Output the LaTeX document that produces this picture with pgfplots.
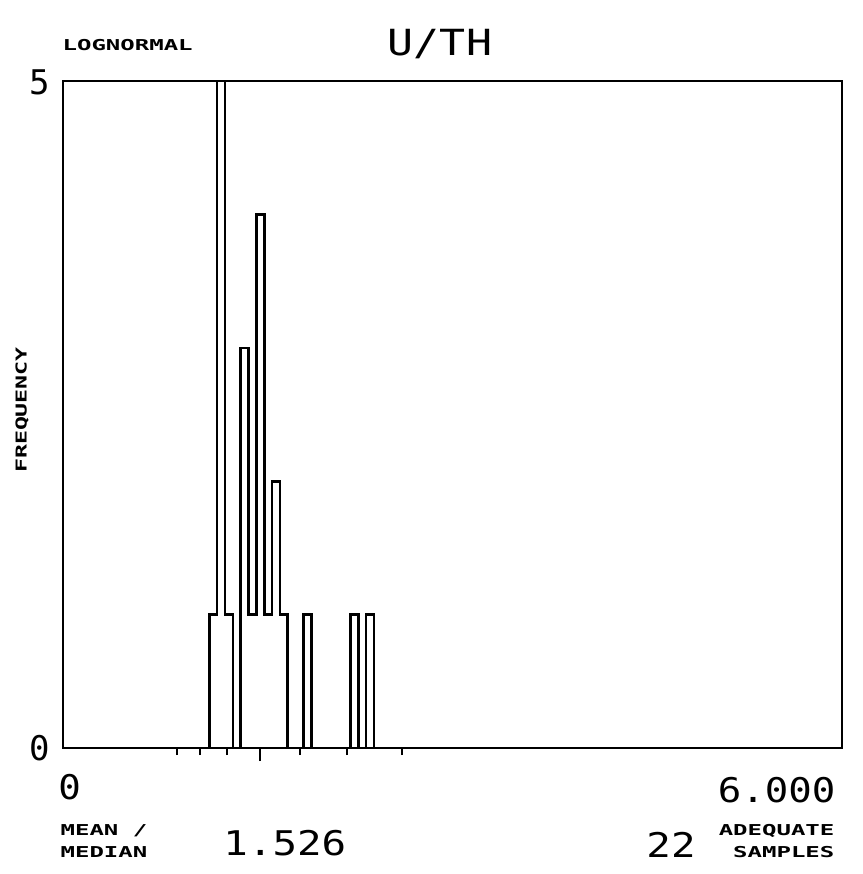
\documentclass[border=0pt]{standalone}
\usepackage{fontspec}
\setmainfont{DejaVu Sans Mono}
\usepackage{pgfplots}
\pgfplotsset{compat=1.18}
\newcommand{\smallfnt}{\fontsize{7.5}{8}\selectfont\bfseries}
\newcommand{\bigfnt}{\fontsize{17}{18}\selectfont}
\begin{document}
\begin{tikzpicture}[x=0.5pt,y=0.5pt]
\useasboundingbox (0,0) rectangle (863,874);
\begin{axis}[
  at={(31.5pt,63pt)}, anchor=south west,
  scale only axis, width=389.5pt, height=333.5pt,
  xmin=0, xmax=6, ymin=0, ymax=5,
  xtick={0.876,1.055,1.266,1.826,2.186,2.614},
  xticklabels={},
  extra x ticks={1.518},
  extra x tick labels={},
  extra x tick style={major tick length=6.5pt},
  ytick=\empty,
  tick align=outside, xtick pos=bottom,
  major tick length=3.5pt,
  axis line style={line width=1.1pt, black},
  tick style={line width=1pt, black},
  clip=false]
\addplot[const plot, black, line width=1.3pt] coordinates {
 (0,0) (1.127,1) (1.1874,5) (1.2478,1) (1.3082,0) (1.3686,3) (1.429,1)
 (1.4894,4) (1.5498,1) (1.6102,2) (1.6706,1) (1.731,0) (1.8518,1)
 (1.9122,0) (2.2142,1) (2.2746,0) (2.335,1) (2.3954,0) (6,0)};
\end{axis}
\node[anchor=base west, inner sep=0, xscale=1.6, font=\smallfnt] at (62,823) {LOGNORMAL};
\node[anchor=base, inner sep=0, xscale=1.2, font=\fontsize{18}{18}\selectfont] at (440,818) {U/TH};
\node[anchor=east, inner sep=0, font=\bigfnt] at (50,792) {5};
\node[anchor=east, inner sep=0, font=\bigfnt] at (50,126) {0};
\node[rotate=90, inner sep=0, xscale=1.55, font=\smallfnt] at (22,464) {FREQUENCY};
\node[anchor=west, inner sep=0, xscale=1.1, font=\bigfnt] at (58,87) {0};
\node[anchor=east, inner sep=0, xscale=1.15, font=\bigfnt] at (836,84) {6.000};
\node[anchor=base west, inner sep=0, xscale=1.6, font=\smallfnt] at (60,39) {MEAN /};
\node[anchor=base west, inner sep=0, xscale=1.6, font=\smallfnt] at (60,17) {MEDIAN};
\node[anchor=west, inner sep=0, xscale=1.2, font=\bigfnt] at (223,31) {1.526};
\node[anchor=west, inner sep=0, xscale=1.2, font=\bigfnt] at (646,29) {22};
\node[anchor=base east, inner sep=0, xscale=1.6, font=\smallfnt] at (835,39) {ADEQUATE};
\node[anchor=base east, inner sep=0, xscale=1.6, font=\smallfnt] at (835,17) {SAMPLES};
\end{tikzpicture}
\end{document}
